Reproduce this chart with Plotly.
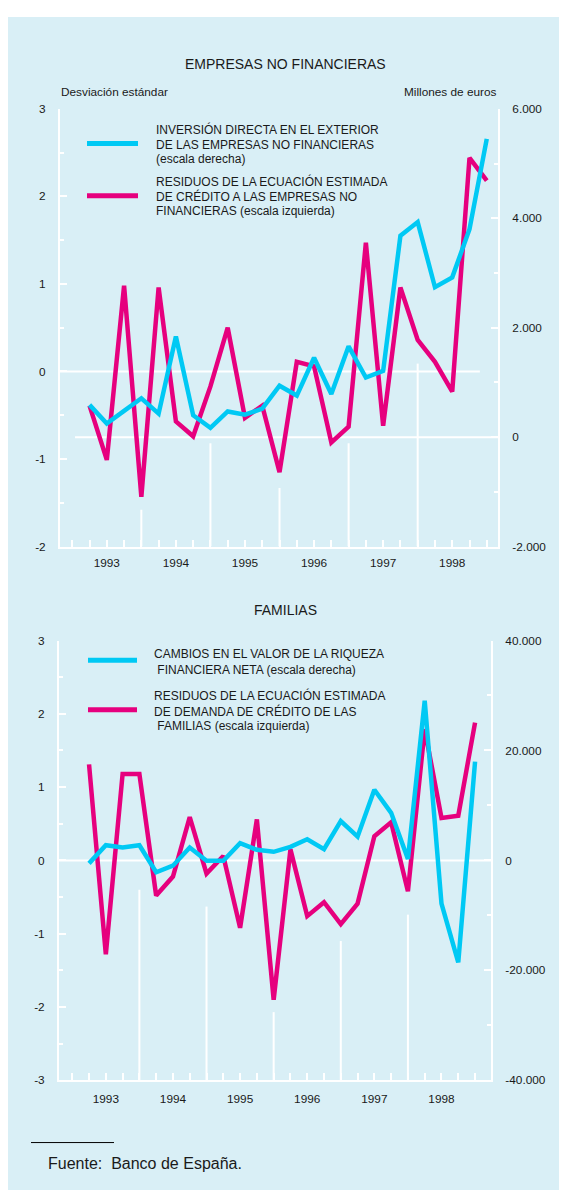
import plotly.graph_objects as go

W, H = 562, 1197

# ---------------- data ----------------
quarters = list(range(1, 25))  # 1993Q1 .. 1998Q4 (quarter-end positions)
year_labels = ["1993", "1994", "1995", "1996", "1997", "1998"]

# Top panel: Empresas no financieras
residuos_empresas = [-0.39, -1.01, 0.98, -1.43, 0.96, -0.57, -0.74, -0.17,
                     0.50, -0.53, -0.39, -1.15, 0.11, 0.06, -0.81, -0.63,
                     1.47, -0.62, 0.96, 0.36, 0.11, -0.23, 2.44, 2.18]
inversion_directa = [590, 250, 480, 710, 430, 1840, 400, 170,
                     470, 410, 520, 940, 760, 1450, 790, 1660,
                     1090, 1210, 3680, 3930, 2740, 2920, 3800, 5450]

# Bottom panel: Familias
residuos_familias = [1.31, -1.28, 1.18, 1.18, -0.48, -0.22, 0.59, -0.18,
                     0.06, -0.92, 0.56, -1.90, 0.15, -0.76, -0.57, -0.87,
                     -0.59, 0.33, 0.52, -0.42, 1.79, 0.58, 0.61, 1.88]
riqueza_financiera = [-540, 2760, 2340, 2760, -2160, -960, 2340, -60,
                      -60, 3120, 1920, 1560, 2460, 3840, 2040, 7150,
                      4320, 12850, 8650, 240, 29060, -7870, -18560, 17960]

left_ticks_top = [-2, -1, 0, 1, 2, 3]
right_ticks_top = [-2000, 0, 2000, 4000, 6000]
right_text_top = ["-2.000", "0", "2.000", "4.000", "6.000"]
left_ticks_bot = [-3, -2, -1, 0, 1, 2, 3]
right_ticks_bot = [-40000, -20000, 0, 20000, 40000]
right_text_bot = ["-40.000", "-20.000", "0", "20.000", "40.000"]

# ---------------- style ----------------
CYAN = "#00c9f4"
PINK = "#e6007e"
BG = "#d9eff6"
TXT = "#1a1a1a"
FONT = "Liberation Sans, Arial, sans-serif"


def px(x):
    return x / W


def py(y):
    return 1 - y / H


fig = go.Figure()

fig.add_trace(go.Scatter(x=quarters, y=residuos_empresas, mode="lines",
                         line=dict(color=PINK, width=4.5), xaxis="x", yaxis="y",
                         showlegend=False, hoverinfo="skip"))
fig.add_trace(go.Scatter(x=quarters, y=inversion_directa, mode="lines",
                         line=dict(color=CYAN, width=4.5), xaxis="x", yaxis="y2",
                         showlegend=False, hoverinfo="skip"))
fig.add_trace(go.Scatter(x=quarters, y=residuos_familias, mode="lines",
                         line=dict(color=PINK, width=4.5), xaxis="x2", yaxis="y3",
                         showlegend=False, hoverinfo="skip"))
fig.add_trace(go.Scatter(x=quarters, y=riqueza_financiera, mode="lines",
                         line=dict(color=CYAN, width=4.5), xaxis="x2", yaxis="y4",
                         showlegend=False, hoverinfo="skip"))

tickvals_x = list(range(0, 25))
ticktext_x = []
for q in tickvals_x:
    if q % 4 == 2 and q // 4 < len(year_labels):
        ticktext_x.append(year_labels[q // 4])
    else:
        ticktext_x.append("")

tickfont = dict(family=FONT, size=11.8, color=TXT)

common_x = dict(showline=True, linecolor="white", linewidth=2, ticks="inside",
                ticklen=7, tickwidth=2, tickcolor="white", tickmode="array",
                tickvals=tickvals_x, ticktext=ticktext_x, showgrid=False,
                zeroline=False, tickfont=tickfont, fixedrange=True)
common_y = dict(showline=True, linecolor="white", linewidth=2, ticks="inside",
                ticklen=7, tickwidth=2, tickcolor="white", tickmode="array",
                showgrid=False, zeroline=False, tickfont=tickfont,
                fixedrange=True, ticklabelstandoff=10)

top_dom = [py(546), py(103)]
bot_dom = [py(1086), py(641)]

fig.update_layout(
    width=W, height=H, autosize=False,
    margin=dict(l=0, r=0, t=0, b=0, pad=0),
    paper_bgcolor="white", plot_bgcolor="rgba(0,0,0,0)",
    font=dict(family=FONT, color=TXT),
    xaxis=dict(domain=[px(60), px(498)], range=[-0.71, 24.65], anchor="y",
               ticklabelstandoff=4, **common_x),
    yaxis=dict(domain=top_dom, range=[-2, 3], anchor="x", side="left",
               tickvals=left_ticks_top, ticktext=[str(v) for v in left_ticks_top],
               minor=dict(tickmode="array", tickvals=[-1.5, -0.5, 0.5, 1.5, 2.5],
                          ticks="inside", ticklen=4, tickwidth=2, tickcolor="white"),
               **common_y),
    yaxis2=dict(range=[-2000, 6000], overlaying="y", anchor="x", side="right",
                tickvals=right_ticks_top, ticktext=right_text_top,
                minor=dict(tickmode="array", tickvals=[-1000, 1000, 3000, 5000],
                           ticks="inside", ticklen=4, tickwidth=2, tickcolor="white"),
                **common_y),
    xaxis2=dict(domain=[px(59), px(491)], range=[-0.79, 24.95], anchor="y3",
                ticklabelstandoff=7, **common_x),
    yaxis3=dict(domain=bot_dom, range=[-3, 3], anchor="x2", side="left",
                tickvals=left_ticks_bot, ticktext=[str(v) for v in left_ticks_bot],
                minor=dict(tickmode="array", tickvals=[-2.5, -1.5, -0.5, 0.5, 1.5, 2.5],
                           ticks="inside", ticklen=4, tickwidth=2, tickcolor="white"),
                **common_y),
    yaxis4=dict(range=[-40000, 40000], overlaying="y3", anchor="x2", side="right",
                tickvals=right_ticks_bot, ticktext=right_text_bot,
                minor=dict(tickmode="array", tickvals=[-30000, -10000, 10000, 30000],
                           ticks="inside", ticklen=4, tickwidth=2, tickcolor="white"),
                **common_y),
)

shapes = []
# panel background
shapes.append(dict(type="rect", xref="paper", yref="paper", x0=px(8), x1=px(559),
                   y0=0, y1=py(10), fillcolor=BG, line=dict(width=0), layer="below"))
# top panel white reference lines
shapes.append(dict(type="line", xref="x", yref="y", x0=-0.71, x1=23.6, y0=0, y1=0,
                   line=dict(color="white", width=2), layer="below"))
shapes.append(dict(type="line", xref="x", yref="y2", x0=0.16, x1=24.65, y0=0, y1=0,
                   line=dict(color="white", width=2), layer="below"))
for xq, ytop in [(4, -1.58), (8, -0.82), (12, -1.33), (16, -0.82), (20, 0.09)]:
    shapes.append(dict(type="line", xref="x", yref="y", x0=xq, x1=xq, y0=-2, y1=ytop,
                       line=dict(color="white", width=2), layer="below"))
# bottom panel white reference lines
shapes.append(dict(type="line", xref="x2", yref="y3", x0=-0.79, x1=24.95, y0=0, y1=0,
                   line=dict(color="white", width=2), layer="below"))
for xq, ytop in [(4, -0.40), (8, -0.63), (12, -2.07), (16, -1.10), (20, -0.74)]:
    shapes.append(dict(type="line", xref="x2", yref="y3", x0=xq, x1=xq, y0=-3, y1=ytop,
                       line=dict(color="white", width=2), layer="below"))
# legend samples
for (x0, x1, yy, col) in [(87, 138, 138, CYAN), (87, 138, 191, PINK),
                          (88, 137, 661, CYAN), (88, 137, 711, PINK)]:
    shapes.append(dict(type="line", xref="paper", yref="paper", x0=px(x0), x1=px(x1),
                       y0=py(yy), y1=py(yy), line=dict(color=col, width=5)))
# footer rule
shapes.append(dict(type="line", xref="paper", yref="paper", x0=px(31), x1=px(114),
                   y0=py(1149), y1=py(1149), line=dict(color="black", width=1)))
fig.update_layout(shapes=shapes)

NB = "\u00a0"
ann = []


def add_text(text, x, y, size, xanchor="left", yanchor="middle"):
    ann.append(dict(text=text, x=px(x), y=py(y), xref="paper", yref="paper",
                    xanchor=xanchor, yanchor=yanchor, align="left", showarrow=False,
                    font=dict(family=FONT, size=size, color=TXT)))


def add_block(lines, x, ys, size):
    for t, yy in zip(lines, ys):
        add_text(t, x, yy, size)


add_text("EMPRESAS NO FINANCIERAS", 285, 58, 14, xanchor="center")
add_text("Desviación estándar", 59, 86, 11.8)
add_text("Millones de euros", 499, 86, 11.8, xanchor="right")
add_block(["INVERSIÓN DIRECTA EN EL EXTERIOR",
           "DE LAS EMPRESAS NO FINANCIERAS",
           "(escala derecha)"], 154, [124, 139.5, 154], 12)
add_block(["RESIDUOS DE LA ECUACIÓN ESTIMADA",
           "DE CRÉDITO A LAS EMPRESAS NO",
           "FINANCIERAS (escala izquierda)"], 154, [177, 192, 206.5], 12)
add_text("FAMILIAS", 285, 610, 14, xanchor="center")
add_block(["CAMBIOS EN EL VALOR DE LA RIQUEZA",
           NB + "FINANCIERA NETA (escala derecha)"], 152, [655, 671], 12)
add_block(["RESIDUOS DE LA ECUACIÓN ESTIMADA",
           "DE DEMANDA DE CRÉDITO DE LAS",
           NB + "FAMILIAS (escala izquierda)"], 152, [697, 713, 727.5], 12)
add_text("Fuente:" + NB + NB + "Banco de España.", 46, 1170, 16)
fig.update_layout(annotations=ann)

fig.write_html(
    "out.html",
    config={"displayModeBar": False},
    post_script="document.documentElement.style.margin='0';"
                "document.body.style.margin='0';"
                "document.body.style.padding='0';"
                "document.body.style.overflow='hidden';",
)
